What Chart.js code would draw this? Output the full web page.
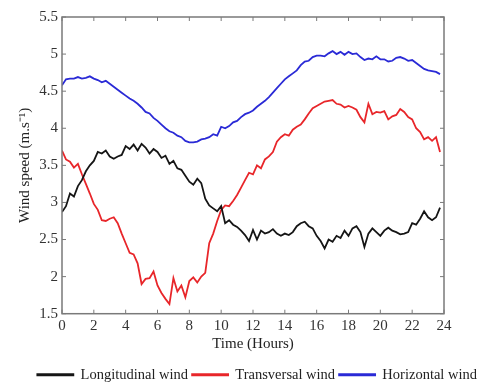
<!DOCTYPE html>
<html>
<head>
<meta charset="utf-8">
<script src="https://cdn.jsdelivr.net/npm/chart.js@4"></script>
<style>
  html, body { margin: 0; padding: 0; background: #fff; }
  #wrap { width: 481px; height: 392px; }
</style>
</head>
<body>
<div id="wrap"><canvas id="windChart" width="481" height="392"></canvas></div>
<script>
'use strict';

// time grid in hours (0 .. 23.75, quarter hour steps)
let hours = [];
for (let i = 0; i < 96; i++) {
  hours.push(i * 0.25);
}

let longitudinal = [
  2.87, 2.95, 3.12, 3.08, 3.22, 3.30, 3.42, 3.50, 3.56, 3.68, 3.66, 3.70,
  3.62, 3.59, 3.62, 3.64, 3.76, 3.72, 3.78, 3.70, 3.79, 3.74, 3.66, 3.72,
  3.68, 3.60, 3.63, 3.52, 3.56, 3.46, 3.44, 3.36, 3.28, 3.24, 3.32, 3.26,
  3.05, 2.96, 2.92, 2.88, 2.95, 2.72, 2.76, 2.70, 2.67, 2.62, 2.56, 2.48,
  2.63, 2.50, 2.62, 2.58, 2.60, 2.64, 2.58, 2.55, 2.58, 2.56, 2.60, 2.68,
  2.72, 2.74, 2.68, 2.65, 2.55, 2.48, 2.38, 2.50, 2.47, 2.55, 2.52, 2.62,
  2.55, 2.65, 2.68, 2.60, 2.40, 2.58, 2.65, 2.60, 2.55, 2.62, 2.66, 2.62,
  2.60, 2.57, 2.58, 2.60, 2.72, 2.70, 2.78, 2.88, 2.80, 2.76, 2.80, 2.93
];

let transversal = [
  3.70, 3.58, 3.55, 3.47, 3.52, 3.38, 3.25, 3.12, 2.98, 2.90, 2.76, 2.75,
  2.78, 2.80, 2.72, 2.58, 2.45, 2.32, 2.30, 2.18, 1.90, 1.97, 1.98, 2.07,
  1.88, 1.78, 1.70, 1.63, 1.98, 1.80, 1.88, 1.72, 1.94, 1.99, 1.92, 2.00,
  2.05, 2.45, 2.58, 2.75, 2.90, 2.96, 2.95, 3.02, 3.10, 3.20, 3.30, 3.40,
  3.38, 3.50, 3.46, 3.58, 3.62, 3.68, 3.82, 3.88, 3.92, 3.90, 3.98, 4.02,
  4.05, 4.12, 4.20, 4.27, 4.30, 4.33, 4.36, 4.37, 4.38, 4.33, 4.32, 4.28,
  4.30, 4.28, 4.25, 4.15, 4.08, 4.33, 4.19, 4.22, 4.21, 4.23, 4.12, 4.16,
  4.18, 4.26, 4.22, 4.15, 4.12, 4.00, 3.95, 3.85, 3.88, 3.83, 3.88, 3.68
];

let horizontal = [
  4.58, 4.66, 4.67, 4.67, 4.69, 4.67, 4.68, 4.70, 4.67, 4.65, 4.62, 4.64,
  4.60, 4.56, 4.52, 4.48, 4.44, 4.40, 4.37, 4.33, 4.28, 4.22, 4.20, 4.14,
  4.10, 4.05, 4.00, 3.96, 3.94, 3.90, 3.88, 3.83, 3.81, 3.81, 3.82, 3.85,
  3.86, 3.88, 3.92, 3.90, 4.02, 4.00, 4.03, 4.08, 4.10, 4.15, 4.19, 4.21,
  4.24, 4.29, 4.33, 4.37, 4.42, 4.48, 4.54, 4.60, 4.66, 4.70, 4.74, 4.78,
  4.85, 4.90, 4.91, 4.96, 4.98, 4.98, 4.97, 5.01, 5.04, 5.00, 5.03, 4.99,
  5.03, 5.00, 5.01, 4.96, 4.92, 4.94, 4.93, 4.97, 4.93, 4.93, 4.90, 4.91,
  4.95, 4.96, 4.94, 4.91, 4.92, 4.88, 4.84, 4.80, 4.78, 4.77, 4.76, 4.73
];

let seriesNames = ['Longitudinal wind', 'Transversal wind', 'Horizontal wind'];
let seriesColors = ['#151515', '#e8262a', '#2a2ad6'];

let serif = "'Times New Roman', 'Liberation Serif', serif";

function toPoints(values) {
  return values.map(function (v, i) {
    return { x: hours[i], y: v };
  });
}

// frame around the plot with inward pointing ticks, like the original figure
let framePlugin = {
  id: 'frame',
  afterDraw: function (chart) {
    let area = chart.chartArea;
    let c = chart.ctx;
    let len = 4;
    c.save();
    c.strokeStyle = '#7a7a7a';
    c.lineWidth = 1.5;
    c.strokeRect(area.left, area.top, area.right - area.left, area.bottom - area.top);
    c.lineWidth = 1;
    c.beginPath();
    chart.scales.x.ticks.forEach(function (t) {
      let px = chart.scales.x.getPixelForValue(t.value);
      c.moveTo(px, area.bottom);
      c.lineTo(px, area.bottom - len);
      c.moveTo(px, area.top);
      c.lineTo(px, area.top + len);
    });
    chart.scales.y.ticks.forEach(function (t) {
      let py = chart.scales.y.getPixelForValue(t.value);
      c.moveTo(area.left, py);
      c.lineTo(area.left + len, py);
      c.moveTo(area.right, py);
      c.lineTo(area.right - len, py);
    });
    c.stroke();
    c.restore();
  }
};

let datasets = [longitudinal, transversal, horizontal].map(function (values, i) {
  return {
    label: seriesNames[i],
    data: toPoints(values),
    borderColor: seriesColors[i],
    backgroundColor: seriesColors[i],
    borderWidth: 1.8,
    pointRadius: 0,
    tension: 0
  };
});

let ctx = document.getElementById('windChart').getContext('2d');

new Chart(ctx, {
  type: 'line',
  data: { datasets: datasets },
  plugins: [framePlugin],
  options: {
    responsive: false,
    animation: false,
    layout: { padding: { left: 0, right: 0, top: 17, bottom: 0 } },
    plugins: {
      tooltip: { enabled: false },
      legend: {
        position: 'bottom',
        align: 'end',
        // blank title only pushes the legend row down a little
        title: { display: true, text: ' ', padding: 0, font: { size: 9 } },
        labels: {
          boxWidth: 36,
          boxHeight: 1,
          padding: 4,
          color: '#222',
          font: { family: serif, size: 14.5 }
        }
      }
    },
    scales: {
      x: {
        type: 'linear',
        min: 0,
        max: 24,
        ticks: { stepSize: 2, color: '#333', padding: 3, font: { family: serif, size: 15 } },
        grid: { display: false, drawTicks: false },
        border: { display: false },
        title: {
          display: true,
          text: 'Time (Hours)',
          color: '#222',
          padding: { top: 0, bottom: 0 },
          font: { family: serif, size: 15 }
        },
        afterFit: function (scale) { scale.height = 39; }
      },
      y: {
        min: 1.5,
        max: 5.5,
        ticks: {
          stepSize: 0.5,
          color: '#333',
          padding: 4,
          font: { family: serif, size: 15 },
          callback: function (v) { return String(v); }
        },
        grid: { display: false, drawTicks: false },
        border: { display: false },
        title: {
          display: true,
          text: 'Wind speed (m.s\u207B\u00B9)',
          color: '#222',
          padding: { top: 16, bottom: 0 },
          font: { family: serif, size: 15 }
        },
        afterFit: function (scale) { scale.width = 62; }
      },
      // empty axis that only reserves the white margin on the right
      yRight: {
        position: 'right',
        ticks: { display: false },
        grid: { display: false, drawTicks: false },
        border: { display: false },
        afterFit: function (scale) { scale.width = 37; }
      }
    }
  }
});
</script>
</body>
</html>
